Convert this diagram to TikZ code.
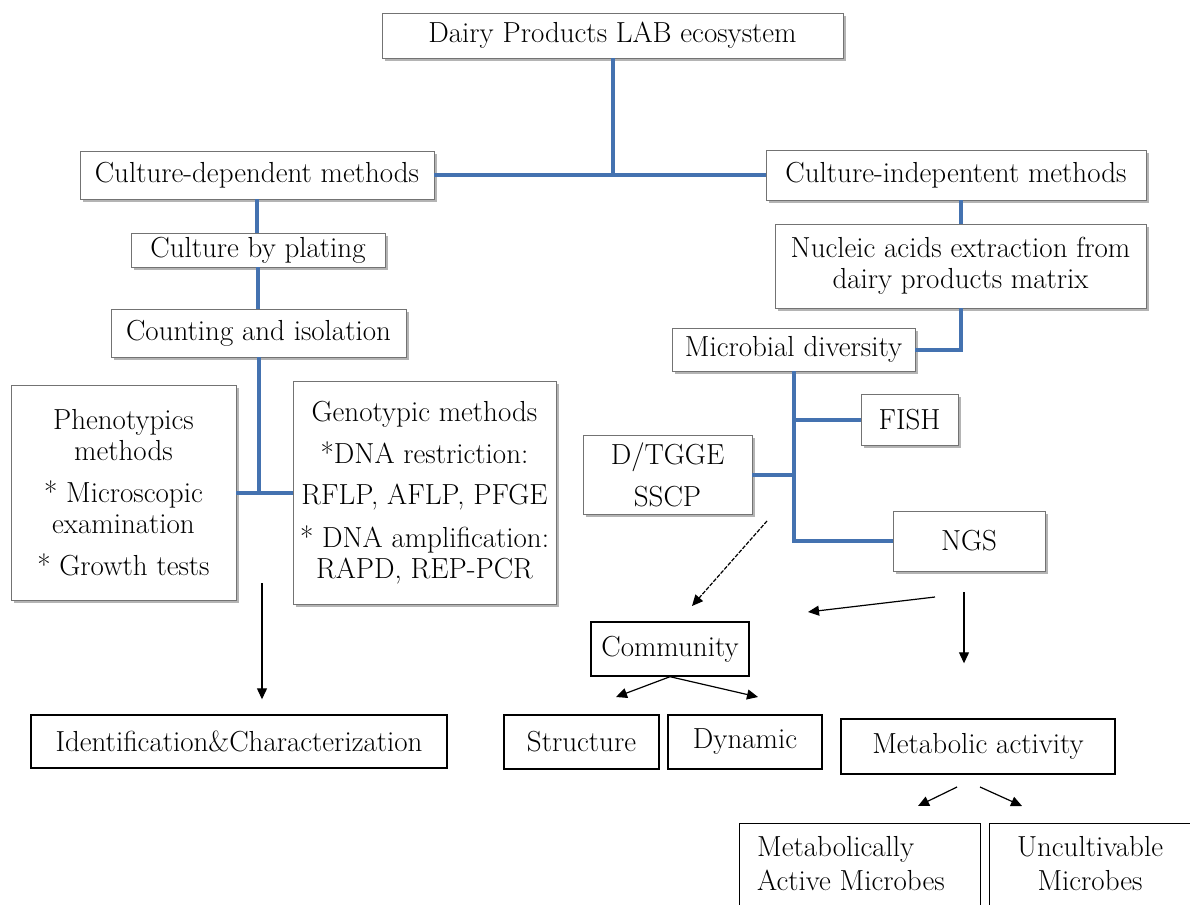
\documentclass[tikz,border=0pt]{standalone}
\usetikzlibrary{shadows,arrows.meta}
\definecolor{lineblue}{RGB}{68,114,176}
\begin{document}
\begin{tikzpicture}[x=1pt,y=-1pt,
  txt/.style={font=\fontsize{29}{31}\selectfont},
  sbox/.style={txt, draw=black!55, line width=0.9pt, fill=white, inner sep=0pt, align=center,
    drop shadow={shadow xshift=3pt, shadow yshift=-3pt, fill=black!45, opacity=0.65}},
  pbox/.style={txt, draw=black, line width=1.4pt, fill=white, inner sep=0pt, align=center},
  bline/.style={draw=lineblue, line width=4pt},
  arr/.style={draw=black, line width=1.2pt, -{Triangle[length=11pt,width=10pt]}},
]
\useasboundingbox (0,0) rectangle (1190,904);
\clip (0,0) rectangle (1190,904);
\fill[white] (0,0) rectangle (1190,904);

% shadowed boxes
\node[sbox, minimum width=461pt, minimum height=45pt] (dairy) at (612.5,35.5) {Dairy Products LAB ecosystem};
\node[sbox, minimum width=354pt, minimum height=48pt] (cdep) at (257,175) {Culture-dependent methods};
\node[sbox, minimum width=380pt, minimum height=50pt] (cindep) at (956,175) {Culture-indepentent methods};
\node[sbox, minimum width=254pt, minimum height=34pt] (plating) at (258,250) {Culture by plating};
\node[sbox, minimum width=295pt, minimum height=48pt] (counting) at (258.5,333) {Counting and isolation};
\node[sbox, minimum width=225pt, minimum height=215pt] (pheno) at (123.5,492.5)
  {Phenotypics\\methods\\[11pt]* Microscopic\\examination\\[11pt]* Growth tests};
\node[sbox, minimum width=263pt, minimum height=223pt] (geno) at (424.5,492.5)
  {Genotypic methods\\[11pt]*DNA restriction:\\[10pt]RFLP, AFLP, PFGE\\[12pt]* DNA amplification:\\RAPD, REP-PCR};
\node[sbox, minimum width=371pt, minimum height=84pt] (nucleic) at (960.5,266)
  {Nucleic acids extraction from\\dairy products matrix};
\node[sbox, minimum width=243pt, minimum height=43pt] (micro) at (793.5,349.5) {Microbial diversity};
\node[sbox, minimum width=97pt, minimum height=51pt] (fish) at (909.5,419.5) {FISH};
\node[sbox, minimum width=169pt, minimum height=79pt] (dtgge) at (667.5,474.5) {D/TGGE\\[11pt]SSCP};
\node[sbox, minimum width=152pt, minimum height=60pt] (ngs) at (969,541) {NGS};

% plain boxes
\node[pbox, minimum width=416pt, minimum height=53pt] (ident) at (239,741.5) {Identification\&Characterization};
\node[pbox, minimum width=158pt, minimum height=54pt] (community) at (670,649) {Community};
\node[pbox, minimum width=155pt, minimum height=54pt] (structure) at (581.5,742) {Structure};
\node[pbox, minimum width=154pt, minimum height=54pt] (dynamic) at (745,742) {Dynamic};
\node[pbox, minimum width=274pt, minimum height=55pt] (metab) at (978,746.5) {Metabolic activity};
\node[pbox, minimum width=241pt, minimum height=107pt, anchor=north west] (metact) at (739,823) {};
\node[txt, anchor=west, align=left, inner sep=0pt] (metacttext) at (757,864) {Metabolically\\[3pt]Active Microbes};
\node[pbox, minimum width=260pt, minimum height=107pt, anchor=north west] (uncult) at (989,823) {};
\node[txt, align=center, inner sep=0pt] (unculttext) at (1090,864) {Uncultivable\\[3pt]Microbes};

% blue tree connectors
\draw[bline] (cdep.east) -- (cindep.west);
\draw[bline] (dairy.south) -- (dairy.south |- cdep.east);
\draw[bline] (cdep.south) -- (cdep.south |- plating.north);
\draw[bline] (plating.south) -- (plating.south |- counting.north);
\draw[bline] (counting.south) -- (counting.south |- pheno.east);
\draw[bline] (pheno.east) -- (geno.west);
\draw[bline] (nucleic.north |- cindep.south) -- (nucleic.north);
\draw[bline] (nucleic.south) |- (micro.east);
\draw[bline] (micro.south) |- (ngs.west);
\draw[bline] (fish.west) -- (fish.west -| micro.south);
\draw[bline] (dtgge.east) -- (dtgge.east -| micro.south);

% black arrows
\coordinate (a1) at (262,583);
\draw[arr, shorten >=15pt] (a1) -- (a1 |- ident.north);
\coordinate (d1) at (767,521);
\coordinate (d2) at (692,606);
\draw[arr, dash pattern=on 4pt off 1.5pt] (d1) -- (d2);
\coordinate (n1) at (935,597);
\coordinate (n2) at (808,612);
\draw[arr] (n1) -- (n2);
\coordinate (n3) at (964,592);
\draw[arr, shorten >=55pt] (n3) -- (n3 |- metab.north);
\coordinate (c1) at (616,697);
\coordinate (c2) at (758,697);
\draw[arr] (community.south) -- (c1);
\draw[arr] (community.south) -- (c2);
\coordinate (m0) at (957,787);
\coordinate (m1) at (918,806);
\coordinate (m2) at (980,787);
\coordinate (m3) at (1022,806);
\draw[arr] (m0) -- (m1);
\draw[arr] (m2) -- (m3);
\end{tikzpicture}
\end{document}
